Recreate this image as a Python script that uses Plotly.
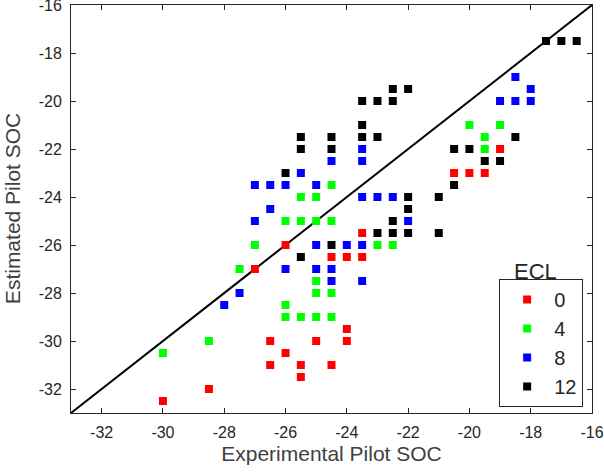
import plotly.graph_objects as go

# ECL = 0 (red)
red_x = [-19, -20.5, -20, -19.5, -23.5, -26, -24.5, -24, -23.5, -27, -24, -26.5, -25, -24, -26, -26.5, -25.5, -24.5, -25.5, -28.5, -30]
red_y = [-22, -23, -23, -23, -25.5, -26, -26.5, -26.5, -26.5, -27, -29.5, -30, -30, -30, -30.5, -31, -31, -31, -31.5, -32, -32.5]

# ECL = 4 (green)
green_x = [-20, -19, -19.5, -19.5, -24.5, -25.5, -25, -26, -25.5, -25, -24.5, -27, -23, -22.5, -27.5, -25, -25, -24.5, -26, -26, -25.5, -25, -24.5, -28.5, -30]
green_y = [-21, -21, -21.5, -22, -23.5, -24, -24, -25, -25, -25, -25, -26, -26, -26, -27, -27.5, -28, -28, -28.5, -29, -29, -29, -29, -30, -30.5]

# ECL = 8 (blue)
blue_x = [-18.5, -18, -19, -18.5, -18, -23.5, -24.5, -23.5, -25.5, -27, -26.5, -26, -25, -23.5, -23, -22.5, -26.5, -27, -22, -25, -24, -23.5, -26, -25, -24.5, -24.5, -23.5, -27.5, -28]
blue_y = [-19, -19.5, -20, -20, -20, -22, -22.5, -22.5, -23, -23.5, -23.5, -23.5, -23.5, -24, -24, -24, -24.5, -25, -25, -26, -26, -26, -27, -27, -27, -27.5, -27.5, -28, -28.5]

# ECL = 12 (black)
black_x = [-17.5, -17, -16.5, -22.5, -22, -23.5, -23, -22.5, -23.5, -25.5, -24.5, -23.5, -23, -18.5, -25.5, -24.5, -20.5, -20, -26, -19.5, -19, -20.5, -22, -21, -22, -22.5, -23, -22.5, -22, -21, -24.5, -25.5]
black_y = [-17.5, -17.5, -17.5, -19.5, -19.5, -20, -20, -20, -21, -21.5, -21.5, -21.5, -21.5, -21.5, -22, -22, -22, -22, -23, -22.5, -22.5, -23.5, -24, -24, -24.5, -25, -25.5, -25.5, -25.5, -25.5, -26, -26.5]

tick_vals = [-32, -30, -28, -26, -24, -22, -20, -18, -16]
tick_text = ["-32", "-30", "-28", "-26", "-24", "-22", "-20", "-18", "-16"]

series = [("0", red_x, red_y, "#FF0000"),
          ("4", green_x, green_y, "#00FF00"),
          ("8", blue_x, blue_y, "#0000FF"),
          ("12", black_x, black_y, "#000000")]

diag = [-33, -16]
FONT = "Liberation Sans, Arial, sans-serif"

fig = go.Figure()
fig.add_trace(go.Scatter(x=diag, y=diag, mode="lines", line=dict(color="black", width=2),
                         showlegend=False, hoverinfo="skip"))
for name, xs, ys, col in series:
    fig.add_trace(go.Scatter(x=xs, y=ys, mode="markers", name=name,
                             marker=dict(symbol="square", size=8, color=col, line=dict(width=0))))

axis_common = dict(showgrid=False, zeroline=False, showline=True, mirror="allticks",
                   linecolor="#262626", linewidth=1, ticks="inside", ticklen=5,
                   tickcolor="#262626", tickvals=tick_vals, ticktext=tick_text,
                   range=[-33, -16], ticklabeloverflow="allow", ticklabelstandoff=5,
                   automargin=False,
                   tickfont=dict(family=FONT, size=16, color="#262626"))

fig.update_layout(
    width=604, height=475,
    margin=dict(l=71, r=12, t=5, b=62),
    plot_bgcolor="white", paper_bgcolor="white",
    xaxis=dict(title=dict(text="Experimental Pilot SOC", font=dict(family=FONT, size=21, color="#404040"), standoff=6),
               **axis_common),
    yaxis=dict(**axis_common),
    legend=dict(x=0.983, y=0.015, xanchor="right", yanchor="bottom",
                bordercolor="#262626", borderwidth=1, bgcolor="white",
                font=dict(family=FONT, size=20, color="#262626"),
                itemwidth=44),
    annotations=[
        dict(text="ECL", x=0.8925, y=0.3456, xref="paper", yref="paper",
             xanchor="center", yanchor="middle",
             showarrow=False, font=dict(family=FONT, size=22, color="#262626")),
        dict(text="Estimated Pilot SOC", x=-0.113, y=0.5, xref="paper", yref="paper",
             xanchor="center", yanchor="middle", textangle=-90,
             showarrow=False, font=dict(family=FONT, size=21, color="#404040")),
    ],
)

fig.write_html("out.html")
